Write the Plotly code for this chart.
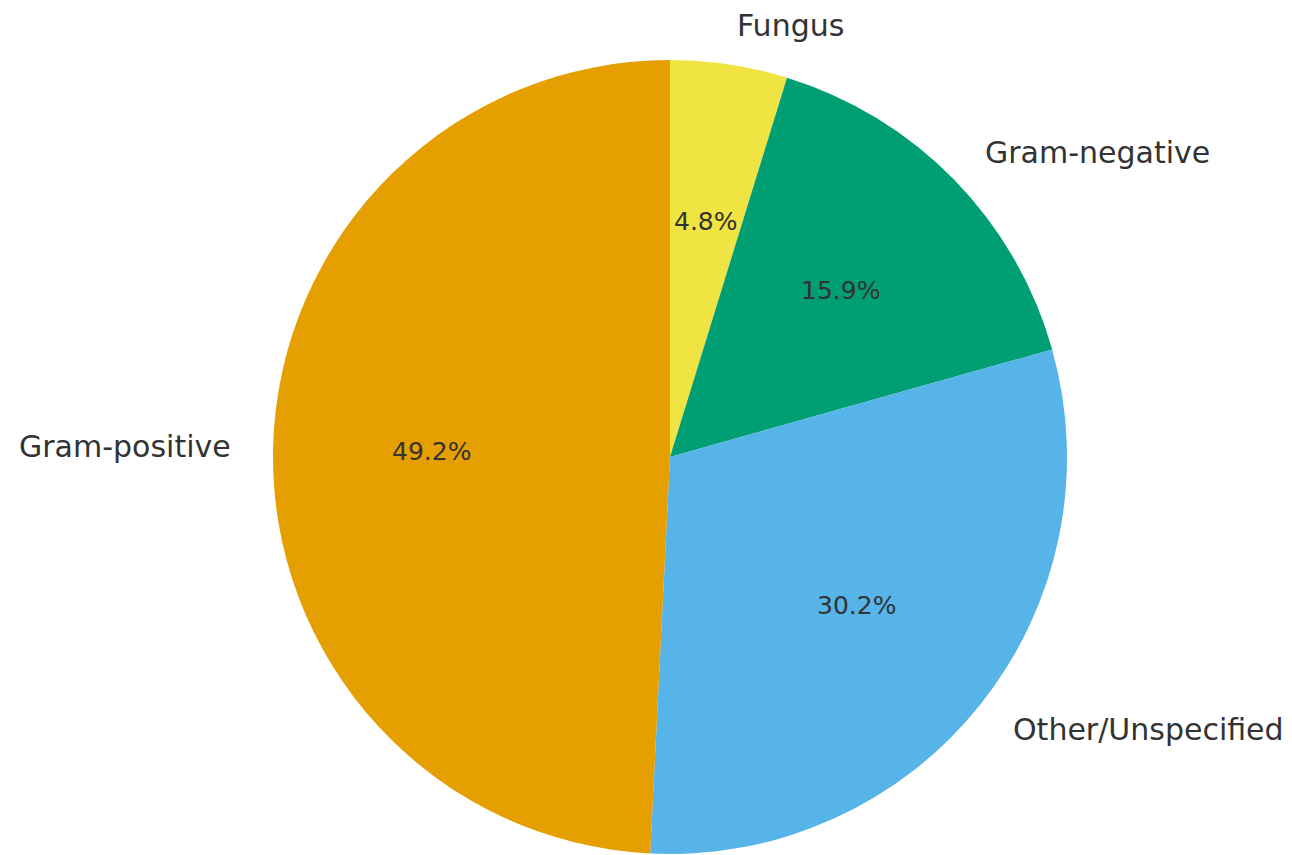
import math
import plotly.graph_objects as go

categories = ["Fungus", "Gram-negative", "Other/Unspecified", "Gram-positive"]
counts = [6, 20, 38, 62]
colors = ["#F0E442", "#009E73", "#56B4E9", "#E69F00"]

W, H = 1292, 855
ML, MR, MT, MB = 40, 8, 52, 9
pw, ph = W - ML - MR, H - MT - MB
R = min(pw, ph) / 2.0

fig = go.Figure(go.Pie(
    labels=categories, values=counts, sort=False, direction="clockwise", rotation=0,
    marker=dict(colors=colors, line=dict(width=0)), textinfo="none", hoverinfo="label+percent",
    showlegend=False,
))

total = sum(counts)
cum = 0.0
annotations = []
font_fam = "DejaVu Sans"
for cat, v in zip(categories, counts):
    frac = v / total
    mid = 90 - (cum + frac / 2) * 360
    cum += frac
    c, s = math.cos(math.radians(mid)), math.sin(math.radians(mid))
    # outer label at 1.1 r
    lx = 0.5 + 1.1 * R * c / pw
    ly = 0.5 + 1.1 * R * s / ph
    annotations.append(dict(x=lx, y=ly, xref="paper", yref="paper", text=cat, showarrow=False,
                            xanchor="left" if c > 0 else "right", yanchor="middle",
                            font=dict(family=font_fam, size=30, color="#333333")))
    px = 0.5 + 0.6 * R * c / pw
    py = 0.5 + 0.6 * R * s / ph
    annotations.append(dict(x=px, y=py, xref="paper", yref="paper", text=f"{frac*100:.1f}%", showarrow=False,
                            xanchor="center", yanchor="middle",
                            font=dict(family=font_fam, size=25, color="#333333")))

fig.update_layout(
    width=W, height=H, margin=dict(l=ML, r=MR, t=MT, b=MB, autoexpand=False),
    paper_bgcolor="white", plot_bgcolor="white", annotations=annotations,
)
fig.write_html("out.html")
